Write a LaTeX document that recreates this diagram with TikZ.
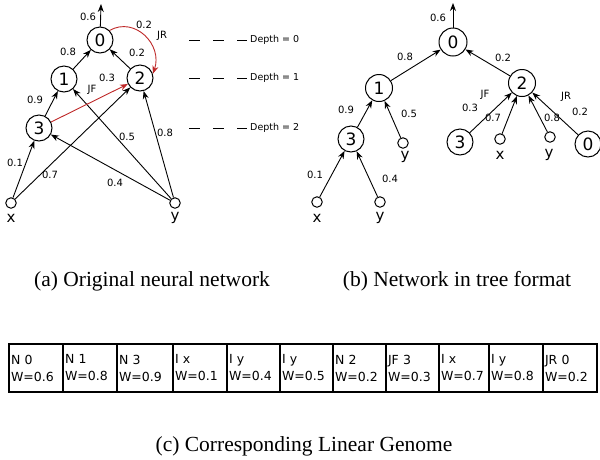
\documentclass[tikz,border=0pt]{standalone}
\usepackage{fontspec}
\setmainfont{DejaVu Sans}
\newfontfamily\capfont{Liberation Serif}
\usetikzlibrary{arrows.meta}
\definecolor{jred}{RGB}{190,40,40}
\begin{document}
\begin{tikzpicture}[x=1pt,y=-1pt,
  neuron/.style={circle,draw,line width=1pt,minimum size=26pt,inner sep=0pt,font=\fontsize{17}{17}\selectfont},
  inp/.style={circle,draw,line width=1pt,minimum size=10.5pt,inner sep=0pt},
  lab/.style={font=\fontsize{10}{10}\selectfont,inner sep=0pt},
  io/.style={font=\fontsize{15}{15}\selectfont,inner sep=0pt},
  dlab/.style={font=\fontsize{9.5}{9.5}\selectfont,inner sep=0pt,anchor=west},
  con/.style={-{Stealth[length=8pt,width=6pt]},line width=0.9pt},
  jump/.style={con,draw=jred},
  depthline/.style={line width=0.9pt,dash pattern=on 11pt off 13pt},
  cell/.style={draw,line width=1.5pt,minimum height=48pt,inner xsep=2pt,inner ysep=0pt,
    align=left,font=\fontsize{12.5}{17}\selectfont},
  captext/.style={font=\capfont\fontsize{21.5}{21.5}\selectfont,inner sep=0pt}
]
\useasboundingbox (0,0) rectangle (600,459);

% ---------- (a) original network ----------
\node[neuron] (n0) at (100,40) {0};
\node[neuron] (n1) at (64,79) {1};
\node[neuron] (n2) at (140,78) {2};
\node[neuron] (n3) at (39,128) {3};
\node[inp] (ix) at (11,203) {};
\node[inp] (iy) at (175,203) {};
\node[io] (ixl) at (11,218) {x};
\node[io] (iyl) at (175,218) {y};
\coordinate (out0) at (101,4);

\draw[con] (n0) -- (out0);
\draw[con] (n1) -- (n0);
\draw[con] (n2) -- (n0);
\draw[con] (n3) -- (n1);
\draw[con] (ix) -- (n3);
\draw[con] (ix) -- (n2);
\draw[con] (iy) -- (n3);
\draw[con] (iy) -- (n1);
\draw[con] (iy) -- (n2);
\draw[jump] (n3) -- (n2);
\draw[jump] (n0.45) .. controls (135,16) and (163,45) .. (n2.18);

\node[lab] (la1) at (88,17) {0.6};
\node[lab] (la2) at (68,52) {0.8};
\node[lab] (la3) at (137,53) {0.2};
\node[lab] (la4) at (144,25) {0.2};
\node[lab] (la5) at (162,36) {JR};
\node[lab] (la6) at (92,90) {JF};
\node[lab] (la7) at (107,78) {0.3};
\node[lab] (la8) at (35,100) {0.9};
\node[lab] (la9) at (15,163) {0.1};
\node[lab] (la10) at (50,175) {0.7};
\node[lab] (la11) at (115,183) {0.4};
\node[lab] (la12) at (127,137) {0.5};
\node[lab] (la13) at (165,133) {0.8};

% depth markers
\node[dlab] (d0) at (250,40) {Depth = 0};
\node[dlab] (d1) at (250,78) {Depth = 1};
\node[dlab] (d2) at (250,128) {Depth = 2};
\coordinate (d0s) at (189,40);
\coordinate (d1s) at (189,78);
\coordinate (d2s) at (189,128);
\draw[depthline] (d0s) -- ([xshift=-3pt]d0.west);
\draw[depthline] (d1s) -- ([xshift=-3pt]d1.west);
\draw[depthline] (d2s) -- ([xshift=-3pt]d2.west);

% ---------- (b) tree ----------
\node[neuron,minimum size=28pt] (t0) at (453,42) {0};
\node[neuron,minimum size=27pt] (t1) at (379,88) {1};
\node[neuron,minimum size=27pt] (t2) at (522,83) {2};
\node[neuron] (t3a) at (351,139) {3};
\node[inp] (ty1) at (403,143) {};
\node[io] (ty1l) at (405,157) {y};
\node[inp] (tx2) at (317,202) {};
\node[io] (tx2l) at (317,218) {x};
\node[inp] (ty2) at (380,202) {};
\node[io] (ty2l) at (380,218) {y};
\node[neuron] (t3b) at (460,142) {3};
\node[inp] (tx3) at (500,139) {};
\node[io] (tx3l) at (500,155) {x};
\node[inp] (ty3) at (550,137) {};
\node[io] (ty3l) at (549,155) {y};
\node[neuron] (t0b) at (588,144) {0};
\coordinate (tout) at (453,3);

\draw[con] (t0) -- (tout);
\draw[con] (t1) -- (t0);
\draw[con] (t2) -- (t0);
\draw[con] (t3a) -- (t1);
\draw[con] (ty1) -- (t1);
\draw[con] (tx2) -- (t3a);
\draw[con] (ty2) -- (t3a);
\draw[con] (t3b) -- (t2);
\draw[con] (tx3) -- (t2);
\draw[con] (ty3) -- (t2);
\draw[con] (t0b) -- (t2);

\node[lab] (lb1) at (438,18) {0.6};
\node[lab] (lb2) at (405,57) {0.8};
\node[lab] (lb3) at (503,58) {0.2};
\node[lab] (lb4) at (346,110) {0.9};
\node[lab] (lb5) at (409,114) {0.5};
\node[lab] (lb6) at (315,175) {0.1};
\node[lab] (lb7) at (390,179) {0.4};
\node[lab] (lb8) at (485,95) {JF};
\node[lab] (lb9) at (470,108) {0.3};
\node[lab] (lb10) at (493,118) {0.7};
\node[lab] (lb11) at (552,118) {0.8};
\node[lab] (lb12) at (566,97) {JR};
\node[lab] (lb13) at (580,112) {0.2};

% ---------- captions ----------
\node[captext] (capa) at (152,281) {(a) Original neural network};
\node[captext] (capb) at (457,281) {(b) Network in tree format};
\node[captext] (capc) at (304,446) {(c) Corresponding Linear Genome};

% ---------- (c) genome ----------
\foreach \l/\r/\a/\b [count=\i] in {
  9/63/N 0/W=0.6, 63/117/N 1/W=0.8, 117/173/N 3/W=0.9, 173/227/I x/W=0.1,
  227/280/I y/W=0.4, 280/333/I y/W=0.5, 333/386/N 2/W=0.2, 386/439/JF 3/W=0.3,
  439/489/I x/W=0.7, 489/543/I y/W=0.8, 543/597/JR 0/W=0.2}
  \node[cell,minimum width=\r-\l,text width=\r-\l-4] (g\i) at ({(\l+\r)/2},368) {\a\\\b};
\end{tikzpicture}
\end{document}
